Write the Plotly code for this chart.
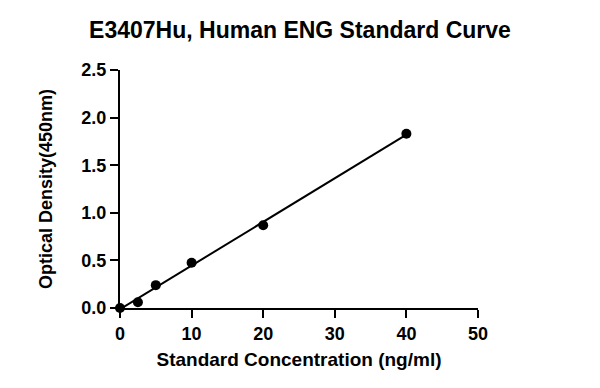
import numpy as np
import plotly.graph_objects as go

conc = [0, 2.5, 5, 10, 20, 40]
od = [0.0, 0.06, 0.24, 0.476, 0.87, 1.83]
x_ticks = [0, 10, 20, 30, 40, 50]
y_ticks = [0.0, 0.5, 1.0, 1.5, 2.0, 2.5]

slope, intercept = np.polyfit(conc, od, 1)
fit_x = np.linspace(min(conc), max(conc), 50)
fit_y = slope * fit_x + intercept

fig = go.Figure()
fig.add_trace(go.Scatter(x=fit_x, y=fit_y, mode="lines",
                         line=dict(color="black", width=2), cliponaxis=False,
                         showlegend=False, hoverinfo="skip"))
fig.add_trace(go.Scatter(x=conc, y=od, mode="markers",
                         marker=dict(color="black", size=10), cliponaxis=False,
                         showlegend=False))

font = "Liberation Sans, Arial, sans-serif"
fig.update_layout(
    width=600, height=388,
    margin=dict(l=120, r=122, t=70, b=80),
    paper_bgcolor="white", plot_bgcolor="white",
    title=dict(text="<b>E3407Hu, Human ENG Standard Curve</b>", x=0.5, xanchor="center",
               y=1 - 30 / 388, yanchor="middle", font=dict(family=font, size=23, color="black")),
    font=dict(family=font, color="black"),
)
fig.update_xaxes(range=[0, 50], tickvals=x_ticks, ticktext=[f"<b>{v}</b>" for v in x_ticks],
                 showline=True, linecolor="black", linewidth=2, ticks="outside",
                 ticklen=8, tickwidth=2, tickcolor="black", showgrid=False, zeroline=False,
                 tickfont=dict(family=font, size=18, color="black"),
                 title=dict(text="<b>Standard Concentration (ng/ml)</b>", standoff=10,
                            font=dict(family=font, size=19, color="black")))
fig.update_yaxes(range=[0, 2.5], tickvals=y_ticks, ticktext=[f"<b>{v:.1f}</b>" for v in y_ticks],
                 showline=True, linecolor="black", linewidth=2, ticks="outside",
                 ticklen=8, tickwidth=2, tickcolor="black", showgrid=False, zeroline=False,
                 tickfont=dict(family=font, size=18, color="black"),
                 title=dict(text="<b>Optical Density(450nm)</b>", standoff=24,
                            font=dict(family=font, size=18, color="black")))

fig.write_html("out.html")
